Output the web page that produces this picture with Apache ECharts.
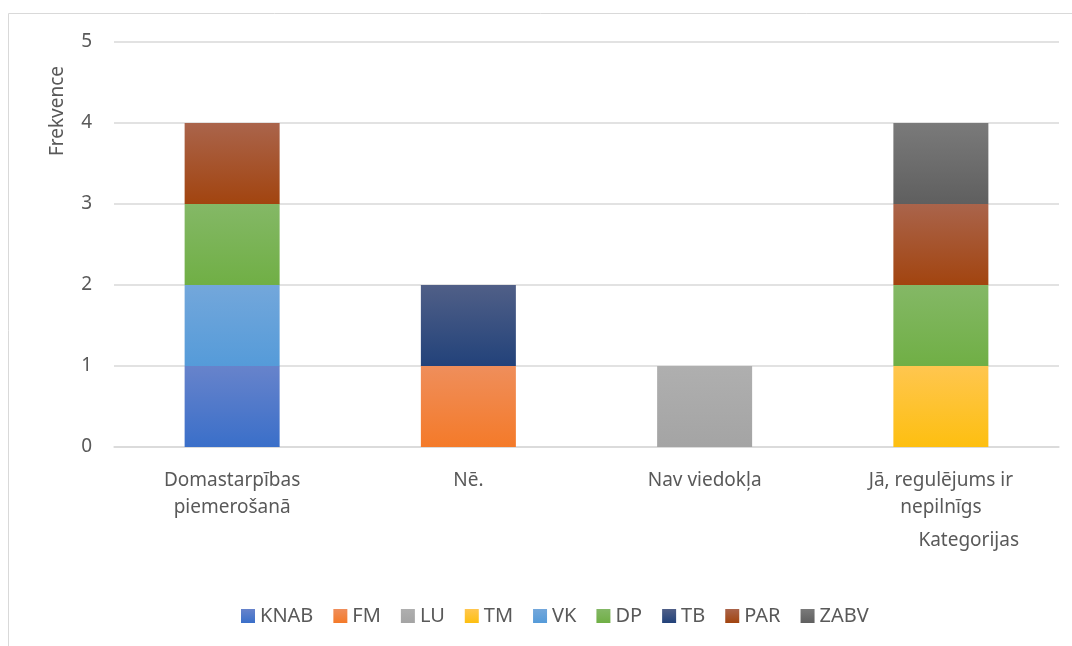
<!DOCTYPE html>
<html>
<head>
<meta charset="utf-8">
<script src="https://cdn.jsdelivr.net/npm/echarts@6/dist/echarts.min.js"></script>
<style>
  html, body { margin: 0; padding: 0; background: #fff; }
  #chart { width: 1072px; height: 646px; }
</style>
</head>
<body>
<div id="chart"></div>
<script>
const categories = ['Domastarpības\npiemerošanā', 'Nē.', 'Nav viedokļa', 'Jā, regulējums ir\nnepilnīgs']
const seriesNames = ['KNAB', 'FM', 'LU', 'TM', 'VK', 'DP', 'TB', 'PAR', 'ZABV']
const knab = [1, 0, 0, 0]
const fm = [0, 1, 0, 0]
const lu = [0, 0, 1, 0]
const tm = [0, 0, 0, 1]
const vk = [1, 0, 0, 0]
const dp = [1, 0, 0, 1]
const tb = [0, 1, 0, 0]
const par = [1, 0, 0, 1]
const zabv = [0, 0, 0, 1]
const yTicks = [0, 1, 2, 3, 4, 5]

const values = [knab, fm, lu, tm, vk, dp, tb, par, zabv]
// top / bottom colours of the bar gradients
const colors = [
  ['#6783cb', '#3a6fc9'],
  ['#ef8e5b', '#f47a29'],
  ['#afafaf', '#a4a4a4'],
  ['#ffc64f', '#fdbf10'],
  ['#73a7db', '#559bd9'],
  ['#84b866', '#70af45'],
  ['#505f87', '#22427a'],
  ['#aa644b', '#a2440f'],
  ['#7a7a7a', '#5f5f5f']
]

const font = 'Noto Sans'
const textColor = '#595959'

const chart = echarts.init(document.getElementById('chart'))
chart.setOption({
  animation: false,
  textStyle: { fontFamily: font },
  graphic: [
    {
      type: 'rect',
      shape: { x: 8.5, y: 13.5, width: 2000, height: 2000 },
      style: { fill: 'none', stroke: '#d9d9d9', lineWidth: 1 },
      silent: true
    },
    {
      type: 'text',
      x: 58,
      y: 111,
      rotation: Math.PI / 2,
      style: {
        text: 'Frekvence',
        fill: textColor,
        font: '19px "Noto Sans"',
        align: 'center',
        verticalAlign: 'middle'
      }
    }
  ],
  grid: {
    left: 114,
    right: 13,
    top: 42,
    bottom: 199
  },
  legend: {
    left: 236,
    top: 601,
    itemWidth: 14,
    itemHeight: 14,
    itemGap: 20,
    icon: 'rect',
    textStyle: { fontSize: 20, color: textColor, fontFamily: font },
    data: seriesNames
  },
  xAxis: {
    type: 'category',
    data: categories,
    axisTick: { show: false },
    axisLine: { lineStyle: { color: '#d9d9d9', width: 1.5 } },
    axisLabel: {
      color: textColor,
      fontSize: 19,
      lineHeight: 27,
      margin: 20,
      interval: 0
    },
    name: 'Kategorijas',
    nameLocation: 'end',
    nameGap: 0,
    nameTextStyle: {
      color: textColor,
      fontSize: 19,
      align: 'right',
      verticalAlign: 'top',
      padding: [84, 40, 0, 0]
    }
  },
  yAxis: {
    type: 'value',
    min: yTicks[0],
    max: yTicks[yTicks.length - 1],
    interval: 1,
    axisLine: { show: false },
    axisTick: { show: false },
    axisLabel: { color: textColor, fontSize: 19, margin: 22 },
    splitLine: { lineStyle: { color: '#d9d9d9', width: 1.5 } }
  },
  series: seriesNames.map((name, i) => ({
    name: name,
    type: 'bar',
    stack: 'total',
    barWidth: 95,
    data: values[i],
    itemStyle: {
      color: new echarts.graphic.LinearGradient(0, 0, 0, 1, [
        { offset: 0, color: colors[i][0] },
        { offset: 1, color: colors[i][1] }
      ])
    }
  }))
})
</script>
</body>
</html>
